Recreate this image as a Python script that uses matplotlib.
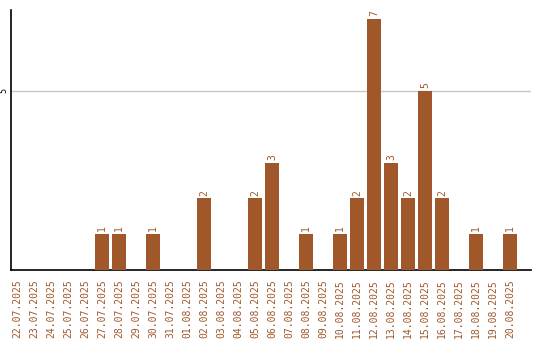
import numpy as np
import matplotlib
matplotlib.use("Agg")
import matplotlib.pyplot as plt

# daily counts 22.07.2025 - 20.08.2025
dates = ["22.07.2025", "23.07.2025", "24.07.2025", "25.07.2025", "26.07.2025",
         "27.07.2025", "28.07.2025", "29.07.2025", "30.07.2025", "31.07.2025",
         "01.08.2025", "02.08.2025", "03.08.2025", "04.08.2025", "05.08.2025",
         "06.08.2025", "07.08.2025", "08.08.2025", "09.08.2025", "10.08.2025",
         "11.08.2025", "12.08.2025", "13.08.2025", "14.08.2025", "15.08.2025",
         "16.08.2025", "17.08.2025", "18.08.2025", "19.08.2025", "20.08.2025"]
counts = [0, 0, 0, 0, 0,
          1, 1, 0, 1, 0,
          0, 2, 0, 0, 2,
          3, 0, 1, 0, 1,
          2, 7, 3, 2, 5,
          2, 0, 1, 0, 1]
y_ticks = [5]

bar_color = "#a0572a"

fig = plt.figure(figsize=(5.4, 3.4), dpi=100)
ax = fig.add_axes([11 / 540, 70 / 340, 520 / 540, 260 / 340])

x = np.arange(len(dates))
bars = ax.bar(x, counts, width=0.82, color=bar_color, zorder=3)

for xi, v in zip(x, counts):
    if v > 0:
        ax.text(xi, v + 0.08, str(v), rotation=90, ha="center", va="bottom",
                color=bar_color, fontsize=7, family="DejaVu Sans Mono")

ax.set_xlim(-0.35, 30.24)
ax.set_ylim(0, 7.26)
ax.set_xticks(x)
ax.set_xticklabels(dates, rotation=90, color=bar_color, fontsize=7,
                   family="DejaVu Sans Mono")
ax.set_yticks(y_ticks)
ax.set_yticklabels([str(t) for t in y_ticks], rotation=90, fontsize=6,
                   va="center", family="DejaVu Sans Mono")
ax.tick_params(axis="both", length=0)
ax.tick_params(axis="x", pad=7)
ax.tick_params(axis="y", pad=2)
ax.grid(axis="y", color="#c8c8c8", linewidth=1, zorder=0)
ax.spines["top"].set_visible(False)
ax.spines["right"].set_visible(False)
ax.spines["left"].set_linewidth(1.2)
ax.spines["bottom"].set_linewidth(1.2)

fig.savefig("out.png", dpi=100)
